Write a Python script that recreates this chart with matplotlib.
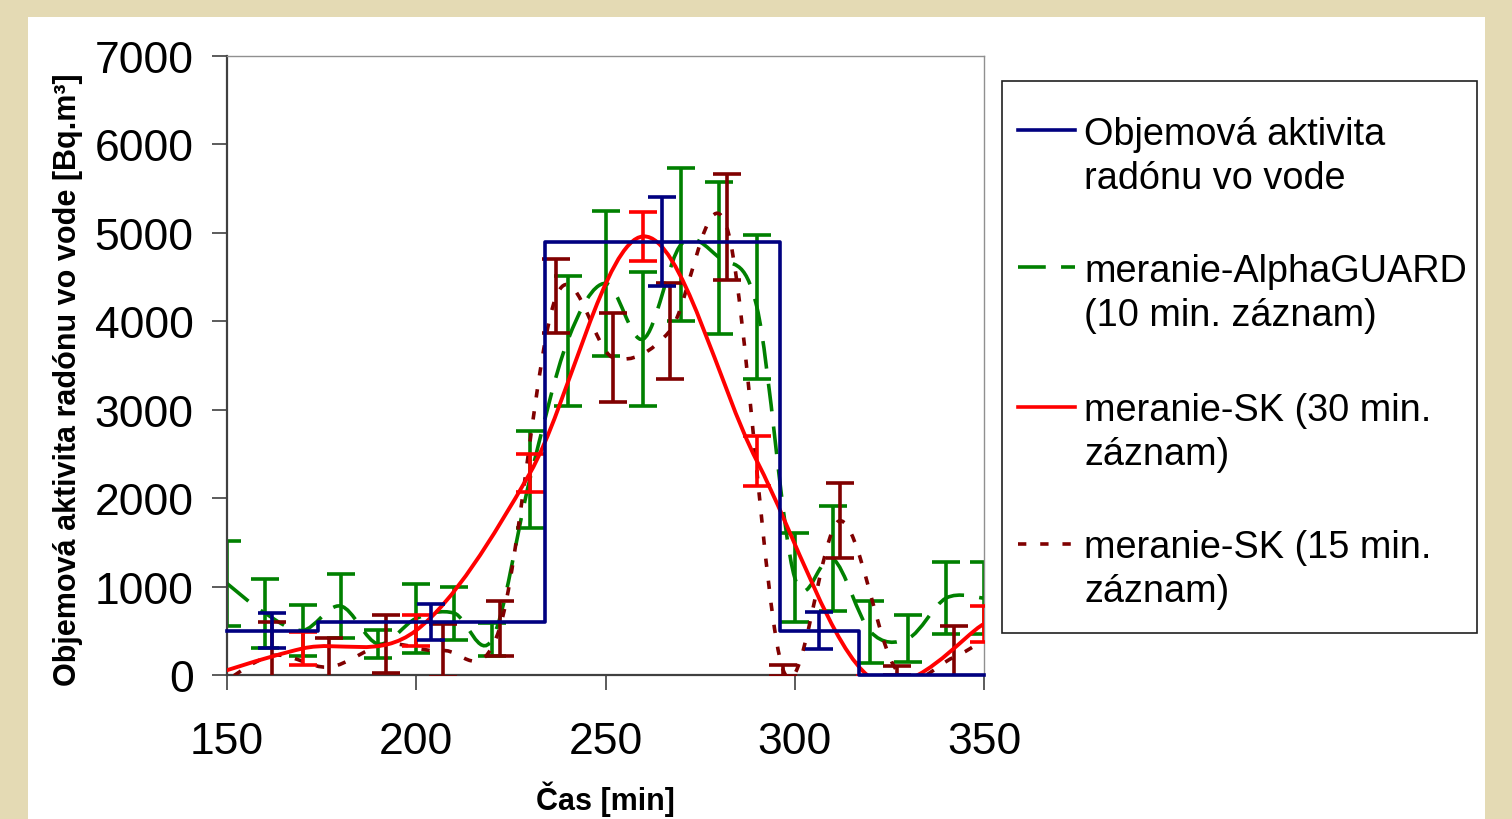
import numpy as np
import matplotlib
matplotlib.use("Agg")
import matplotlib.pyplot as plt
from matplotlib.path import Path
from matplotlib.patches import PathPatch, Rectangle
from matplotlib.lines import Line2D

plt.rcParams["font.family"] = ["Liberation Sans", "DejaVu Sans"]
plt.rcParams["lines.scale_dashes"] = False

# Objemova aktivita radonu vo vode (step profile) + its error bars
step_t = [150, 174, 174, 234, 234, 296, 296, 317, 317, 350]
step_v = [500, 500, 600, 600, 4900, 4900, 500, 500, 0, 0]
step_err_t = [162, 204, 265, 306.5]
step_err_v = [500, 600, 4900, 500]
step_err = [200, 205, 500, 210]

# meranie-AlphaGUARD, 10 min record
ag_t = [150, 160, 170, 180, 190, 200, 210, 220, 230, 240, 250,
        260, 270, 280, 290, 300, 310, 320, 330, 340, 350]
ag_v = [1035, 700, 505, 780, 350, 640, 700, 400, 2210, 3780, 4430,
        3800, 4870, 4720, 4160, 1100, 1320, 490, 415, 870, 870]
ag_err = [485, 390, 285, 365, 160, 390, 300, 190, 550, 735, 820,
          760, 865, 860, 815, 505, 595, 350, 265, 405, 405]

# meranie-SK, 30 min record
sk30_t = [140, 170, 200, 230, 260, 290, 320, 350]
sk30_v = [-80, 300, 505, 2280, 4960, 2420, -30, 577]
sk30_err = [60, 185, 175, 215, 275, 285, 20, 207]

# meranie-SK, 15 min record
sk15_t = [147, 162, 177, 192, 207, 222, 237, 252, 267, 282, 297, 312, 327, 342, 357]
sk15_v = [-150, 220, 90, 350, 275, 525, 4285, 3590, 3890, 5070, 50, 1745, 50, 200, 600]
sk15_err = [100, 380, 330, 330, 300, 315, 420, 500, 540, 600, 60, 425, 50, 350, 300]

legend_labels = [
    ["Objemová aktivita", "radónu vo vode"],
    ["meranie-AlphaGUARD", "(10 min. záznam)"],
    ["meranie-SK (30 min.", "záznam)"],
    ["meranie-SK (15 min.", "záznam)"],
]

NAVY = "#000080"
GREEN = "#008000"
RED = "#FF0000"
MAROON = "#800000"
GREEN_LS = (0, (20, 11))
MAROON_LS = (0, (6, 10))
LW = 2.6
CAP = 10


def smooth_path(t, v):
    # Excel-style smoothed line: cubic Bezier through every point
    pts = np.column_stack([np.asarray(t, float), np.asarray(v, float)])
    ext = np.vstack([pts[0], pts, pts[-1]])
    verts = [pts[0]]
    codes = [Path.MOVETO]
    for i in range(len(pts) - 1):
        p0, p1, p2, p3 = ext[i], ext[i + 1], ext[i + 2], ext[i + 3]
        verts += [p1 + (p2 - p0) / 6.0, p2 - (p3 - p1) / 6.0, p2]
        codes += [Path.CURVE4] * 3
    return Path(verts, codes)


W, H = 1512, 820
fig = plt.figure(figsize=(W / 100, H / 100), dpi=100)
fig.patch.set_facecolor("#E4DAB4")


def fx(x):
    return x / W


def fy(y):
    return 1 - y / H


# white slide panel
fig.add_artist(Rectangle((fx(28), 0), fx(1485) - fx(28), fy(18), transform=fig.transFigure,
                         facecolor="white", edgecolor="none", zorder=-5))

ax = fig.add_axes([fx(227), fy(676), fx(984) - fx(227), fy(57) - fy(676)])
ax.set_facecolor("white")

ax.plot(step_t, step_v, color=NAVY, lw=LW, zorder=3, clip_on=False, solid_joinstyle="round")
ax.errorbar(step_err_t, step_err_v, yerr=step_err, fmt="none", ecolor=NAVY,
            elinewidth=LW, capsize=CAP, capthick=LW, zorder=3)

ax.add_patch(PathPatch(smooth_path(ag_t, ag_v), fill=False, edgecolor=GREEN, lw=LW,
                       linestyle=GREEN_LS, zorder=2))
ax.errorbar(ag_t, ag_v, yerr=ag_err, fmt="none", ecolor=GREEN,
            elinewidth=LW, capsize=CAP, capthick=LW, zorder=2)

ax.add_patch(PathPatch(smooth_path(sk15_t, sk15_v), fill=False, edgecolor=MAROON, lw=LW,
                       linestyle=MAROON_LS, zorder=2.6))
ax.errorbar(sk15_t, sk15_v, yerr=sk15_err, fmt="none", ecolor=MAROON,
            elinewidth=LW, capsize=CAP, capthick=LW, zorder=2.6)

ax.add_patch(PathPatch(smooth_path(sk30_t, sk30_v), fill=False, edgecolor=RED, lw=2.8,
                       zorder=2.8))
ax.errorbar(sk30_t, sk30_v, yerr=sk30_err, fmt="none", ecolor=RED,
            elinewidth=LW, capsize=CAP, capthick=LW, zorder=2.8)

ax.set_xlim(150, 350)
ax.set_ylim(0, 7000)
ax.set_xticks([150, 200, 250, 300, 350])
ax.set_yticks(range(0, 7001, 1000))
ax.tick_params(axis="both", direction="out", length=11, width=1.2, color="#404040",
               labelsize=32)
ax.tick_params(axis="y", pad=13)
ax.tick_params(axis="x", pad=22)
for side in ("left", "bottom"):
    ax.spines[side].set_color("#404040")
    ax.spines[side].set_linewidth(1.6)
for side in ("top", "right"):
    ax.spines[side].set_color("#909090")
    ax.spines[side].set_linewidth(1.0)

ax.set_ylabel("Objemová aktivita radónu vo vode [Bq.m³]", fontsize=22, fontweight="bold")
ax.yaxis.set_label_coords(-0.19, 0.478)
ax.set_xlabel("Čas [min]", fontsize=22, fontweight="bold")
ax.xaxis.set_label_coords(0.5, -0.17)

# legend box drawn by hand so handles sit on the first text line like the original
fig.add_artist(Rectangle((fx(1002), fy(634)), fx(1477) - fx(1002), fy(82) - fy(634),
                         transform=fig.transFigure, facecolor="white",
                         edgecolor="#202020", lw=1.2, zorder=5))
handle_styles = [
    dict(color=NAVY, linestyle="-"),
    dict(color=GREEN, linestyle=GREEN_LS),
    dict(color=RED, linestyle="-"),
    dict(color=MAROON, linestyle=MAROON_LS),
]
handle_y = [131, 268, 408, 545]
baselines = [(145, 189), (282, 326), (421, 465), (558, 602)]
for style, hy, lines, bl in zip(handle_styles, handle_y, legend_labels, baselines):
    fig.add_artist(Line2D([fx(1018), fx(1075)], [fy(hy), fy(hy)], transform=fig.transFigure,
                          lw=LW, zorder=6, **style))
    for text, b in zip(lines, bl):
        fig.text(fx(1084), fy(b), text, fontsize=27.3, va="baseline", ha="left", zorder=6)

fig.savefig("out.png", dpi=100, facecolor=fig.get_facecolor())
